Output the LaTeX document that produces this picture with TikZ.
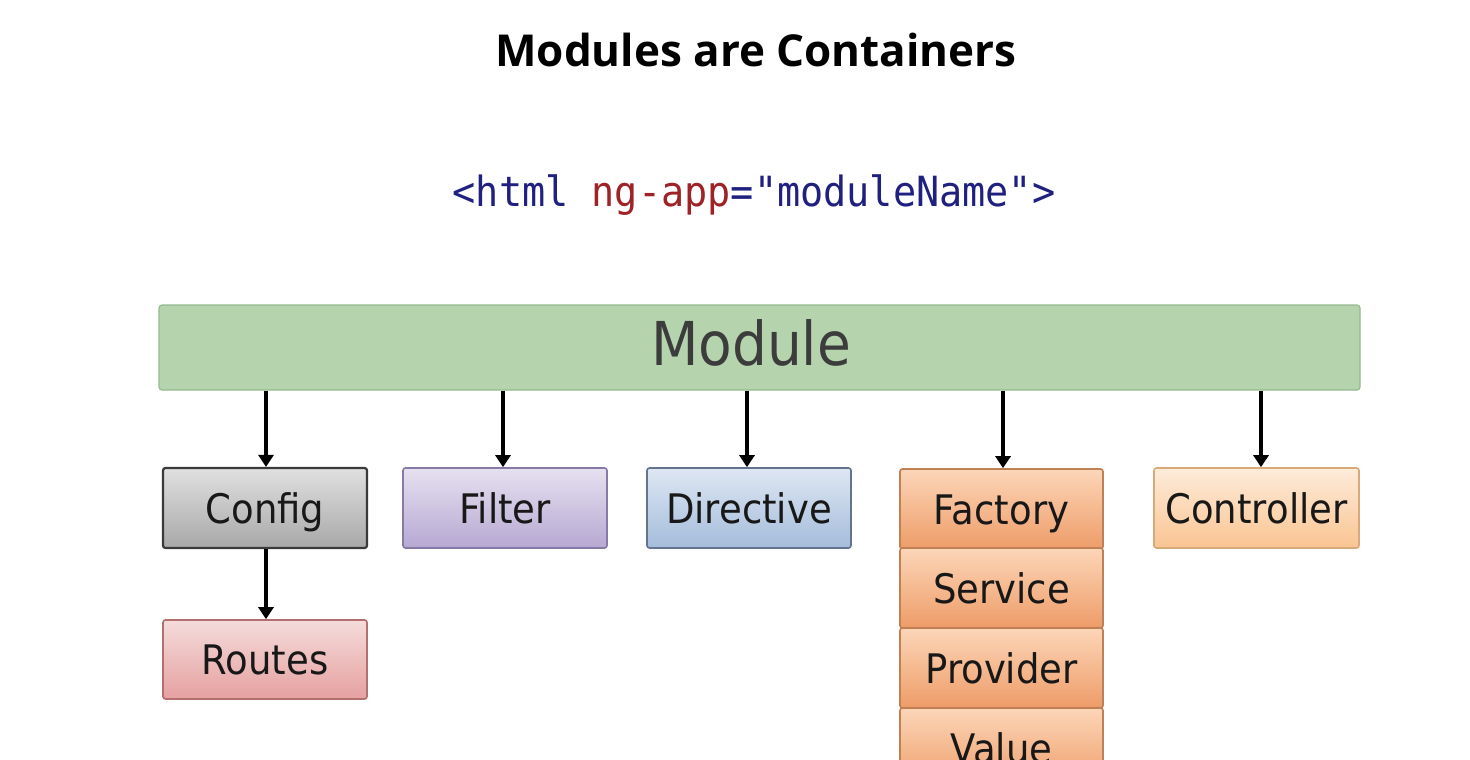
\documentclass[tikz,border=0pt]{standalone}
\usepackage{graphicx}
\usepackage{fontspec}
\setmainfont{DejaVu Sans}
\newfontfamily\titlefont{Open Sans}
\newfontfamily\codefont{DejaVu Sans Mono}
\usetikzlibrary{arrows.meta}

\definecolor{modfill}{RGB}{181,212,174}
\definecolor{moddraw}{RGB}{150,185,143}
\definecolor{codeblue}{RGB}{32,32,128}
\definecolor{codered}{RGB}{158,34,38}
\definecolor{labeltext}{RGB}{24,24,24}

% box labels are set slightly tall
\newcommand{\tallword}[1]{\scalebox{1}[1.1]{#1}}

\tikzset{
  box/.style={rectangle, rounded corners=2.5pt, line width=1.6pt,
    minimum width=204pt, minimum height=80pt, inner sep=0pt,
    text height=30pt, text depth=0pt,
    text=labeltext, font=\fontsize{37}{40}\selectfont},
  configbox/.style={box, line width=2.2pt, draw={rgb,255:red,58;green,58;blue,58},
    top color={rgb,255:red,224;green,224;blue,224},
    bottom color={rgb,255:red,168;green,168;blue,168}},
  filterbox/.style={box, draw={rgb,255:red,136;green,122;blue,166},
    top color={rgb,255:red,230;green,225;blue,240},
    bottom color={rgb,255:red,182;green,168;blue,210}},
  directivebox/.style={box, draw={rgb,255:red,100;green,116;blue,142},
    top color={rgb,255:red,222;green,231;blue,243},
    bottom color={rgb,255:red,164;green,188;blue,219}},
  factorybox/.style={box, minimum width=203pt, draw={rgb,255:red,190;green,128;blue,84},
    top color={rgb,255:red,252;green,214;blue,184},
    bottom color={rgb,255:red,238;green,156;blue,104}},
  controllerbox/.style={box, minimum width=205pt, draw={rgb,255:red,216;green,170;blue,122},
    top color={rgb,255:red,253;green,236;blue,218},
    bottom color={rgb,255:red,250;green,196;blue,146}},
  routesbox/.style={box, minimum height=79pt, draw={rgb,255:red,180;green,112;blue,112},
    top color={rgb,255:red,244;green,220;blue,219},
    bottom color={rgb,255:red,230;green,160;blue,160}},
  link/.style={line width=3.4pt, -{Triangle[length=12pt,width=15pt]}}
}

\begin{document}
\begin{tikzpicture}[x=1pt, y=-1pt]
  % canvas
  \fill[white] (0,0) rectangle (1470,760);
  \useasboundingbox (0,0) rectangle (1470,760);
  \clip (0,0) rectangle (1470,760);

  % heading and markup line
  \node (title) at (756,50) {\titlefont\bfseries\fontsize{44}{50}\selectfont Modules are Containers};
  \node (code) at (754,195) {\codefont\fontsize{38.5}{44}\selectfont\scalebox{1}[1.08]{%
    \textcolor{codeblue}{<html} \textcolor{codered}{ng-app}\textcolor{codeblue}{="moduleName">}}};

  % module bar and its label
  \node[rectangle, rounded corners=3pt, fill=modfill, draw=moddraw, line width=1.2pt,
        minimum width=1201pt, minimum height=85pt, inner sep=0pt]
    (module) at (759.5,347.5) {};
  \node[inner sep=0pt, text height=35pt, text depth=0pt,
        text={rgb,255:red,60;green,60;blue,60}, font=\fontsize{55}{60}\selectfont]
    (modlabel) at (751,347.5) {\tallword{Module}};

  % first row
  \node[configbox] (config) at (265,508) {\tallword{Config}};
  \node[filterbox] (filter) at (505,508) {\tallword{Filter}};
  \node[directivebox] (directive) at (749,508) {\tallword{Directive}};
  \node[factorybox] (factory) at (1001.5,509) {\tallword{Factory}};
  \node[controllerbox] (controller) at (1256.5,508) {\tallword{Controller}};

  % stacked services
  \node[factorybox] (service) at (1001.5,588) {\tallword{Service}};
  \node[factorybox] (provider) at (1001.5,668) {\tallword{Provider}};
  \node[factorybox] (value) at (1001.5,748) {\tallword{Value}};

  % routes under config
  \node[routesbox] (routes) at (265,659.5) {\tallword{Routes}};

  % connectors
  \draw[link] ([xshift=1pt]config.north |- module.south) -- ([xshift=1pt]config.north);
  \draw[link] ([xshift=-2pt]filter.north |- module.south) -- ([xshift=-2pt]filter.north);
  \draw[link] ([xshift=-2pt]directive.north |- module.south) -- ([xshift=-2pt]directive.north);
  \draw[link] ([xshift=1.5pt]factory.north |- module.south) -- ([xshift=1.5pt]factory.north);
  \draw[link] ([xshift=4.5pt]controller.north |- module.south) -- ([xshift=4.5pt]controller.north);
  \draw[link] ([xshift=1pt]config.south) -- ([xshift=1pt]routes.north);
\end{tikzpicture}
\end{document}
